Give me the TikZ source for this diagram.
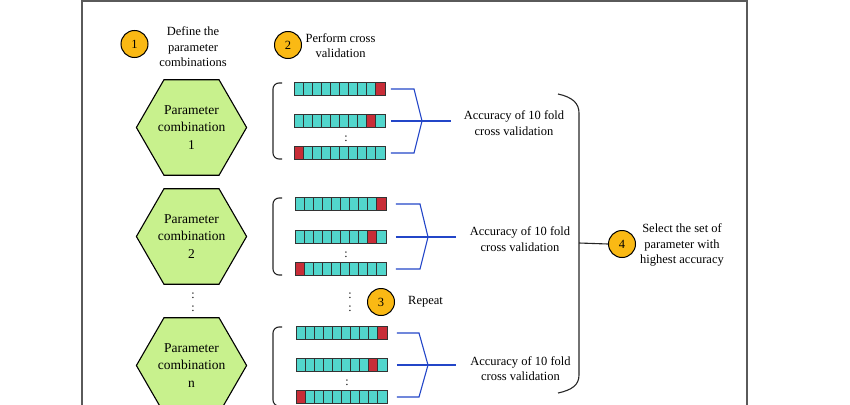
\documentclass[tikz,border=0pt]{standalone}
\usepackage{fontspec}
\setmainfont{Liberation Serif}
\usetikzlibrary{shapes.geometric}
\definecolor{tealc}{RGB}{82,214,204}
\definecolor{redc}{RGB}{200,45,55}
\definecolor{hexgreen}{RGB}{200,241,141}
\definecolor{goldc}{RGB}{250,185,20}
\definecolor{bluec}{RGB}{35,70,200}
\definecolor{framec}{RGB}{90,90,90}
\newcommand{\foldbar}[4]{%
  \foreach \i in {1,...,10}{%
    \ifnum\i=#4\relax\def\cf{redc}\else\def\cf{tealc}\fi
    \draw[draw=black!80, line width=0.9pt, fill=\cf] ({#2+(\i-1)*9.1},{#3-6.5}) rectangle ++(9.1,13);
  }%
  \node[draw=black!80, line width=0.9pt, minimum width=91pt, minimum height=13pt, inner sep=0pt, anchor=west] (#1) at (#2,#3) {};
}
\begin{document}
\begin{tikzpicture}[x=1pt,y=-1pt,
 hexa/.style={regular polygon, regular polygon sides=6, minimum size=105pt, inner sep=0pt, draw=black, line width=1.1pt, fill=hexgreen, align=center, font=\fontsize{13.5}{17.5}\selectfont},
 stepnum/.style={circle, draw=black, line width=1pt, fill=goldc, minimum size=27pt, inner sep=0pt, font=\fontsize{12.5}{15}\selectfont},
 lbl/.style={align=center, font=\fontsize{12.5}{15.5}\selectfont, inner sep=0pt},
 dotlbl/.style={inner sep=0pt, font=\fontsize{12}{12}\selectfont},
 blueline/.style={draw=bluec, color=bluec, line width=1.1pt},
 brk/.style={draw=black!85, line width=1.1pt},
]
\useasboundingbox (0,0) rectangle (850,404);
\clip (0,0) rectangle (850,404);
% frame
\draw[draw=framec, line width=1.1pt] (82,420) -- (82,1) -- (747,1) -- (747,420);

% step circles and labels
\node[stepnum] (c1) at (134.5,44) {1};
\node[lbl] (l1) at (193,47) {Define the\\parameter\\combinations};
\node[stepnum] (c2) at (288,45) {2};
\node[lbl] (l2) at (340.5,45.5) {Perform cross\\validation};

% hexagons
\node[hexa] (h1) at (191.5,127.5) {Parameter\\combination\\1};
\node[hexa] (h2) at (191.5,236.5) {Parameter\\combination\\2};
\node[hexa] (h3) at (191.5,365.5) {Parameter\\combination\\n};
\node[dotlbl] (hd1) at (193,296) {:};
\node[dotlbl] (hd2) at (193,309) {:};

% group 1
\foldbar{b11}{294}{89}{10}
\foldbar{b12}{294}{121}{9}
\foldbar{b13}{294}{153}{1}
\node[dotlbl] (d1) at (346,139) {:};
\draw[brk, rounded corners=6pt] (282,83) -- (273,83) -- (273,159) -- (282,159);
\node[lbl] (a1) at (514,123) {Accuracy of 10 fold\\cross validation};
\coordinate (t1) at (422,121);
\coordinate (m1) at (451,121);
\draw[blueline] ([xshift=5pt]b11.east) -- (414,89) -- (t1) -- (414,153) -- ([xshift=5pt]b13.east);
\draw[blueline] ([xshift=5pt]b12.east) -- (m1);

% group 2
\foldbar{b21}{295}{204}{10}
\foldbar{b22}{295}{237}{9}
\foldbar{b23}{295}{269}{1}
\node[dotlbl] (d2) at (346,255) {:};
\draw[brk, rounded corners=6pt] (282,198) -- (273,198) -- (273,275) -- (282,275);
\node[lbl] (a2) at (520,239) {Accuracy of 10 fold\\cross validation};
\coordinate (t2) at (428,237);
\coordinate (m2) at (456,237);
\draw[blueline] ([xshift=9pt]b21.east) -- (420,204) -- (t2) -- (420,269) -- ([xshift=9pt]b23.east);
\draw[blueline] ([xshift=9pt]b22.east) -- (m2);

% repeat
\node[dotlbl] (rd1) at (350,296) {:};
\node[dotlbl] (rd2) at (350,309) {:};
\node[stepnum] (c3) at (381,302) {3};
\node[lbl, anchor=west] (l3) at (408,302) {Repeat};

% group 3
\foldbar{b31}{296}{333}{10}
\foldbar{b32}{296}{365}{9}
\foldbar{b33}{296}{397}{1}
\node[dotlbl] (d3) at (347,383) {:};
\draw[brk, rounded corners=6pt] (282,327) -- (273,327) -- (273,406) -- (282,406);
\node[lbl] (a3) at (520.5,368.5) {Accuracy of 10 fold\\cross validation};
\coordinate (t3) at (428,365);
\coordinate (m3) at (456,365);
\draw[blueline] ([xshift=9pt]b31.east) -- (419,333) -- (t3) -- (419,397) -- ([xshift=9pt]b33.east);
\draw[blueline] ([xshift=9pt]b32.east) -- (m3);

% big bracket
\coordinate (bt) at (558,94);
\coordinate (bb) at (558,393);
\coordinate (bm) at (579,243);
\draw[brk] (bt) .. controls (572,97) and (579,103) .. (579,113) -- (579,375) .. controls (579,385) and (572,390) .. (bb);
\node[stepnum] (c4) at (622,244) {4};
\draw[brk] (bm) -- (c4.west);
\node[lbl] (l4) at (682,245) {Select the set of\\parameter with\\highest accuracy};
\end{tikzpicture}
\end{document}
